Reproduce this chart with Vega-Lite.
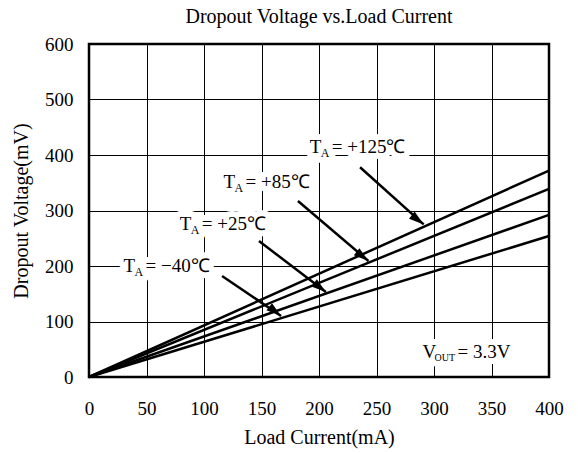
{
  "$schema": "https://vega.github.io/schema/vega-lite/v6.json",
  "width": 460,
  "height": 333,
  "autosize": {"type": "none"},
  "padding": {"left": 89, "top": 44, "right": 29, "bottom": 76},
  "background": "white",
  "title": {"text": "Dropout Voltage vs.Load Current", "font": "Liberation Serif", "fontSize": 20, "fontWeight": "normal", "color": "black", "offset": 8, "anchor": "middle"},
  "config": {
    "font": "Liberation Serif",
    "style": {"guide-label": {"font": "Liberation Serif", "fontWeight": "normal"}, "guide-title": {"font": "Liberation Serif", "fontWeight": "normal"}},
    "view": {"stroke": "black", "strokeWidth": 2.5},
    "axis": {"grid": true, "gridColor": "black", "gridOpacity": 1, "gridWidth": 1, "domain": false, "ticks": false, "labelFont": "Liberation Serif", "labelFontWeight": "normal", "labelFontSize": 19, "labelColor": "black", "labelFlush": false, "labelOverlap": false, "titleFont": "Liberation Serif", "titleFontSize": 20, "titleFontWeight": "normal", "titleColor": "black"}
  },
  "datasets": {
    "lines": [
      {"temp": "+125℃", "x": 0, "y": 0}, {"temp": "+125℃", "x": 400, "y": 372},
      {"temp": "+85℃", "x": 0, "y": 0}, {"temp": "+85℃", "x": 400, "y": 339},
      {"temp": "+25℃", "x": 0, "y": 0}, {"temp": "+25℃", "x": 400, "y": 292},
      {"temp": "-40℃", "x": 0, "y": 0}, {"temp": "-40℃", "x": 400, "y": 254}
    ],
    "arrows": [
      {"x": 235.7, "y": 378, "xe": 291, "ye": 275},
      {"x": 181.7, "y": 317, "xe": 243, "ye": 209},
      {"x": 147.8, "y": 245, "xe": 206, "ye": 153},
      {"x": 115.7, "y": 182, "xe": 167, "ye": 110}
    ],
    "tlabels": [
      {"x": 192, "y": 414, "main": "T", "sub": "A", "rest": "= +125℃"},
      {"x": 117, "y": 351, "main": "T", "sub": "A", "rest": "= +85℃"},
      {"x": 79, "y": 276, "main": "T", "sub": "A", "rest": "= +25℃"},
      {"x": 30, "y": 200, "main": "T", "sub": "A", "rest": "= −40℃"}
    ],
    "vlabel": [
      {"x": 290, "y": 45, "main": "V", "sub": "OUT", "rest": "= 3.3V"}
    ]
  },
  "layer": [
    {
      "data": {"name": "lines"},
      "mark": {"type": "line", "color": "black", "strokeWidth": 2.5},
      "encoding": {
        "x": {"field": "x", "type": "quantitative", "title": "Load Current(mA)", "scale": {"domain": [0, 400], "nice": false, "zero": false}, "axis": {"values": [0, 50, 100, 150, 200, 250, 300, 350, 400], "labelFont": "Liberation Serif", "labelFontSize": 19, "titleFont": "Liberation Serif", "labelPadding": 22, "titlePadding": 9}},
        "y": {"field": "y", "type": "quantitative", "title": "Dropout Voltage(mV)", "scale": {"domain": [0, 600], "nice": false, "zero": false}, "axis": {"values": [0, 100, 200, 300, 400, 500, 600], "labelFont": "Liberation Serif", "labelFontSize": 19, "titleFont": "Liberation Serif", "labelPadding": 16, "titlePadding": 13}},
        "detail": {"field": "temp", "type": "nominal"}
      }
    },
    {
      "data": {"name": "arrows"},
      "mark": {"type": "rule", "color": "black", "strokeWidth": 2.5},
      "encoding": {
        "x": {"field": "x", "type": "quantitative", "title": "Load Current(mA)"},
        "y": {"field": "y", "type": "quantitative", "title": "Dropout Voltage(mV)"},
        "x2": {"field": "xe"},
        "y2": {"field": "ye"}
      }
    },
    {
      "data": {"name": "arrows"},
      "mark": {"type": "point", "shape": "M0,0L0.3,1L-0.3,1Z", "size": 900, "angle": 128, "filled": true, "color": "black", "opacity": 1, "strokeWidth": 0},
      "encoding": {
        "x": {"field": "xe", "type": "quantitative", "title": "Load Current(mA)"},
        "y": {"field": "ye", "type": "quantitative", "title": "Dropout Voltage(mV)"}
      }
    },
    {
      "data": {"name": "tlabels"},
      "layer": [
        {"mark": {"type": "text", "font": "Liberation Serif", "fontSize": 19, "align": "left", "baseline": "middle", "fill": "white", "stroke": "white", "strokeWidth": 12, "strokeJoin": "round"}, "encoding": {"text": {"field": "main"}}},
        {"mark": {"type": "text", "font": "Liberation Serif", "fontSize": 12, "align": "left", "baseline": "middle", "dx": 11, "dy": 6, "fill": "white", "stroke": "white", "strokeWidth": 12, "strokeJoin": "round"}, "encoding": {"text": {"field": "sub"}}},
        {"mark": {"type": "text", "font": "Liberation Serif", "fontSize": 19, "align": "left", "baseline": "middle", "dx": 22, "fill": "white", "stroke": "white", "strokeWidth": 12, "strokeJoin": "round"}, "encoding": {"text": {"field": "rest"}}},
        {"mark": {"type": "text", "font": "Liberation Serif", "fontSize": 19, "align": "left", "baseline": "middle", "color": "black"}, "encoding": {"text": {"field": "main"}}},
        {"mark": {"type": "text", "font": "Liberation Serif", "fontSize": 12, "align": "left", "baseline": "middle", "dx": 11, "dy": 6, "color": "black"}, "encoding": {"text": {"field": "sub"}}},
        {"mark": {"type": "text", "font": "Liberation Serif", "fontSize": 19, "align": "left", "baseline": "middle", "dx": 22, "color": "black"}, "encoding": {"text": {"field": "rest"}}}
      ],
      "encoding": {
        "x": {"field": "x", "type": "quantitative", "title": "Load Current(mA)"},
        "y": {"field": "y", "type": "quantitative", "title": "Dropout Voltage(mV)"}
      }
    },
    {
      "data": {"name": "vlabel"},
      "layer": [
        {"mark": {"type": "text", "font": "Liberation Serif", "fontSize": 19, "align": "left", "baseline": "middle", "fill": "white", "stroke": "white", "strokeWidth": 12, "strokeJoin": "round"}, "encoding": {"text": {"field": "main"}}},
        {"mark": {"type": "text", "font": "Liberation Serif", "fontSize": 10, "align": "left", "baseline": "middle", "dx": 12, "dy": 6, "fill": "white", "stroke": "white", "strokeWidth": 12, "strokeJoin": "round"}, "encoding": {"text": {"field": "sub"}}},
        {"mark": {"type": "text", "font": "Liberation Serif", "fontSize": 19, "align": "left", "baseline": "middle", "dx": 35, "fill": "white", "stroke": "white", "strokeWidth": 12, "strokeJoin": "round"}, "encoding": {"text": {"field": "rest"}}},
        {"mark": {"type": "text", "font": "Liberation Serif", "fontSize": 19, "align": "left", "baseline": "middle", "color": "black"}, "encoding": {"text": {"field": "main"}}},
        {"mark": {"type": "text", "font": "Liberation Serif", "fontSize": 10, "align": "left", "baseline": "middle", "dx": 12, "dy": 6, "color": "black"}, "encoding": {"text": {"field": "sub"}}},
        {"mark": {"type": "text", "font": "Liberation Serif", "fontSize": 19, "align": "left", "baseline": "middle", "dx": 35, "color": "black"}, "encoding": {"text": {"field": "rest"}}}
      ],
      "encoding": {
        "x": {"field": "x", "type": "quantitative", "title": "Load Current(mA)"},
        "y": {"field": "y", "type": "quantitative", "title": "Dropout Voltage(mV)"}
      }
    }
  ]
}
